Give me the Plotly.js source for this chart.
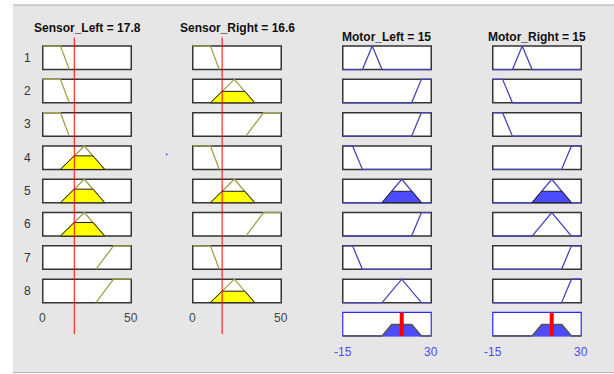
<!DOCTYPE html>
<html>
<head>
<meta charset="utf-8">
<script src="https://cdn.plot.ly/plotly-3.0.1.min.js"></script>
<style>
  html, body { margin: 0; padding: 0; background: #ffffff; }
  #fis { width: 614px; height: 374px; }
</style>
</head>
<body>
<div id="fis"></div>
<script>
// Rule viewer of a two-sensor / two-motor fuzzy controller.

// ---- inputs ----
const inputNames = ['Sensor_Left', 'Sensor_Right'];
const inputValues = [17.8, 16.6];
const inputRange = [0, 50];
const inputTicks = [0, 50];
// membership functions: near, medium, far  (trapezoid a, b, c, d)
const sensorLeftMFs = [[0, 0, 10, 15], [10, 23.5, 23.5, 35], [30, 40, 50, 50]];
const sensorRightMFs = [[0, 0, 10, 15], [10, 23.5, 23.5, 35], [30, 40, 50, 50]];

// ---- outputs ----
const outputNames = ['Motor_Left', 'Motor_Right'];
const outputValues = [15, 15];
const outputRange = [-15, 30];
const outputTicks = [-15, 30];
// membership functions: reverse, zero, medium, fast
const motorLeftMFs = [[-15, -15, -10, -5], [-5, 0, 0, 5], [5, 15, 15, 25], [20, 25, 30, 30]];
const motorRightMFs = [[-15, -15, -10, -5], [-5, 0, 0, 5], [5, 15, 15, 25], [20, 25, 30, 30]];

// ---- rule base (indices into the MF lists) ----
const ruleSensorLeft  = [0, 0, 0, 1, 1, 1, 2, 2];
const ruleSensorRight = [0, 1, 2, 0, 1, 2, 0, 1];
const ruleMotorLeft   = [1, 3, 3, 0, 2, 3, 0, 2];
const ruleMotorRight  = [1, 0, 0, 3, 2, 2, 3, 3];

// ---- drawing geometry (pixels) ----
const W = 614, H = 374;
const colLeft = [42, 192, 342, 492];
const boxW = 90, boxH = 25;
const rowTop = 45.3, rowStep = 33.3;
const lw = 1.5, pad = 3;
const FONT = 'Arial, "Liberation Sans", sans-serif';

const inColor = '#a2a04a', inFill = '#ffff00';
const outColor = '#4646b8', outFill = '#4d4dff';
const edgeColor = '#1e1e1e';

function fx(p) { return p / W; }
function fy(p) { return 1 - p / H; }

function trap(x, p) {
  const [a, b, c, d] = p;
  if (x < a || x > d) return 0;
  if (x < b) return (x - a) / (b - a);
  if (x <= c) return 1;
  return (d - x) / (d - c);
}

const layout = {
  width: W, height: H,
  margin: { l: 0, r: 0, t: 0, b: 0 },
  paper_bgcolor: '#ffffff',
  plot_bgcolor: 'rgba(0,0,0,0)',
  showlegend: false,
  hovermode: false,
  shapes: [],
  annotations: []
};
const data = [];

// grey panel behind everything
layout.shapes.push({ type: 'rect', xref: 'paper', yref: 'paper', x0: fx(13), x1: 1, y0: fy(372.5), y1: fy(5),
  fillcolor: '#e6e6e6', line: { width: 0 }, layer: 'below' });
layout.shapes.push({ type: 'line', xref: 'paper', yref: 'paper', x0: fx(13), x1: 1, y0: fy(5), y1: fy(5),
  line: { color: '#ababab', width: 1 }, layer: 'below' });
layout.shapes.push({ type: 'line', xref: 'paper', yref: 'paper', x0: fx(13), x1: 1, y0: fy(372.5), y1: fy(372.5),
  line: { color: '#b4b4b4', width: 1 }, layer: 'below' });

let k = 0;
function addBox(colIdx, rowIdx, lo, hi, borderColor, borderWidth) {
  k += 1;
  const id = k === 1 ? '' : String(k);
  const bx0 = colLeft[colIdx] + lw / 2, bx1 = colLeft[colIdx] + boxW - lw / 2;
  const top = rowTop + rowIdx * rowStep;
  const by0 = top + lw / 2, by1 = top + boxH - lw / 2;
  const sx = (hi - lo) / (bx1 - bx0), sy = 1 / (by1 - by0);
  const common = { showgrid: false, zeroline: false, showticklabels: false, ticks: '',
    showline: false, fixedrange: true };
  layout['xaxis' + id] = Object.assign({}, common, {
    domain: [fx(bx0 - pad), fx(bx1 + pad)], range: [lo - pad * sx, hi + pad * sx], anchor: 'y' + id });
  layout['yaxis' + id] = Object.assign({}, common, {
    domain: [fy(by1 + pad), fy(by0 - pad)], range: [-pad * sy, 1 + pad * sy], anchor: 'x' + id });
  layout.shapes.push({ type: 'rect', xref: 'x' + id, yref: 'y' + id, x0: lo, x1: hi, y0: 0, y1: 1,
    fillcolor: '#ffffff', line: { color: borderColor, width: borderWidth }, layer: 'below' });
  return { x: 'x' + id, y: 'y' + id };
}

function line(ax, xs, ys, color, width) {
  data.push({ type: 'scatter', mode: 'lines', x: xs, y: ys, xaxis: ax.x, yaxis: ax.y,
    line: { color: color, width: width }, hoverinfo: 'skip', showlegend: false });
}
function patch(ax, xs, ys, fill, edge, width) {
  data.push({ type: 'scatter', mode: 'lines', x: xs, y: ys, xaxis: ax.x, yaxis: ax.y,
    fill: 'toself', fillcolor: fill, line: { color: edge, width: width },
    hoverinfo: 'skip', showlegend: false });
}
function clipped(p, h) {
  const [a, b, c, d] = p;
  return { x: [a, a + h * (b - a), d - h * (d - c), d, a], y: [0, h, h, 0, 0] };
}

const inputMFs = [sensorLeftMFs, sensorRightMFs];
const inputRules = [ruleSensorLeft, ruleSensorRight];
const outputMFs = [motorLeftMFs, motorRightMFs];
const outputRules = [ruleMotorLeft, ruleMotorRight];

const firstRowAxes = [];
const lastInputAxes = [];
const aggAxes = [];
const strengths = [];

for (let r = 0; r < ruleSensorLeft.length; r++) {
  const degrees = [];
  for (let i = 0; i < 2; i++) {
    const p = inputMFs[i][inputRules[i][r]];
    const ax = addBox(i, r, inputRange[0], inputRange[1], '#353535', lw);
    if (r === 0) firstRowAxes[i] = ax;
    if (r === ruleSensorLeft.length - 1) lastInputAxes[i] = ax;
    const xs = p.map(v => Math.min(Math.max(v, inputRange[0]), inputRange[1]));
    line(ax, xs, xs.map(v => trap(v, p)), inColor, 1.3);
    const mu = trap(inputValues[i], p);
    degrees.push(mu);
    if (mu > 0) {
      const c = clipped(p, mu);
      patch(ax, c.x, c.y, inFill, edgeColor, 1);
    }
  }
  const w = Math.min(...degrees);
  strengths.push(w);
  for (let j = 0; j < 2; j++) {
    const p = outputMFs[j][outputRules[j][r]];
    const ax = addBox(2 + j, r, outputRange[0], outputRange[1], '#353535', lw);
    const xs = [outputRange[0]].concat(p, [outputRange[1]])
      .map(v => Math.min(Math.max(v, outputRange[0]), outputRange[1]))
      .sort((a, b) => a - b);
    line(ax, xs, xs.map(v => trap(v, p)), outColor, 1.3);
    if (w > 0) {
      const c = clipped(p, w);
      patch(ax, c.x, c.y, outFill, edgeColor, 1);
    }
  }
}

// aggregated output sets with the defuzzified value
for (let j = 0; j < 2; j++) {
  const ax = addBox(2 + j, 8, outputRange[0], outputRange[1], '#2b2bff', 1.2);
  aggAxes[j] = ax;
  let xs = [outputRange[0], outputRange[1]];
  strengths.forEach((w, r) => {
    if (w > 0) xs = xs.concat(clipped(outputMFs[j][outputRules[j][r]], w).x);
  });
  xs = Array.from(new Set(xs)).sort((a, b) => a - b);
  const ys = xs.map(x => Math.max(0, ...strengths.map((w, r) =>
    Math.min(w, trap(x, outputMFs[j][outputRules[j][r]])))));
  patch(ax, xs, ys, outFill, '#555555', 1.5);
  line(ax, [outputValues[j], outputValues[j]], [0, 1], '#ff0000', 4);
}

// input values as red lines through all rule rows
for (let i = 0; i < 2; i++) {
  layout.shapes.push({ type: 'line', xref: firstRowAxes[i].x, yref: 'paper',
    x0: inputValues[i], x1: inputValues[i], y0: fy(334), y1: fy(37.5),
    line: { color: '#ff0000', width: 1 }, layer: 'above' });
}

// stray marker dot
layout.shapes.push({ type: 'circle', xref: 'paper', yref: 'paper',
  x0: fx(165.8), x1: fx(167.6), y0: fy(155.2), y1: fy(153.4),
  fillcolor: '#3c3cff', line: { width: 0 }, layer: 'above' });

// titles
for (let i = 0; i < 2; i++) {
  layout.annotations.push({ xref: 'paper', yref: 'paper', x: fx(colLeft[i] + boxW / 2), y: fy(28.5),
    text: '<b>' + inputNames[i] + ' = ' + inputValues[i] + '</b>', showarrow: false,
    xanchor: 'center', yanchor: 'middle', font: { family: FONT, size: 12, color: '#111111' } });
  layout.annotations.push({ xref: 'paper', yref: 'paper', x: fx(colLeft[2 + i] + boxW / 2), y: fy(36.5),
    text: '<b>' + outputNames[i] + ' = ' + outputValues[i] + '</b>', showarrow: false,
    xanchor: 'center', yanchor: 'middle', font: { family: FONT, size: 12, color: '#111111' } });
}

// rule numbers
for (let r = 0; r < ruleSensorLeft.length; r++) {
  layout.annotations.push({ xref: 'paper', yref: 'paper', x: fx(27), y: fy(rowTop + r * rowStep + boxH / 2),
    text: String(r + 1), showarrow: false, xanchor: 'center', yanchor: 'middle',
    font: { family: FONT, size: 12, color: '#333333' } });
}

// range labels
for (let i = 0; i < 2; i++) {
  inputTicks.forEach(t => layout.annotations.push({ xref: lastInputAxes[i].x, yref: 'paper', x: t, y: fy(318),
    text: String(t), showarrow: false, xanchor: 'center', yanchor: 'middle',
    font: { family: FONT, size: 12, color: '#444444' } }));
  outputTicks.forEach(t => layout.annotations.push({ xref: aggAxes[i].x, yref: 'paper', x: t, y: fy(352),
    text: String(t), showarrow: false, xanchor: 'center', yanchor: 'middle',
    font: { family: FONT, size: 12, color: '#4a4aff' } }));
}

Plotly.newPlot('fis', data, layout, { staticPlot: true, displayModeBar: false });
</script>
</body>
</html>
